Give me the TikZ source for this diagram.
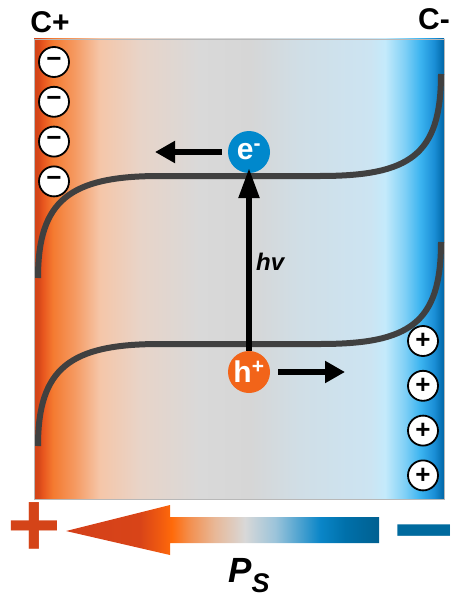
\documentclass[tikz,border=0pt]{standalone}
\usepackage{fontspec}
\setmainfont{Liberation Sans}
\usepackage{xcolor}
\usepackage{tikz}
\usetikzlibrary{positioning,arrows.meta,calc}
\definecolor{crojo}{HTML}{D44418}
\definecolor{cnaranja}{HTML}{F26419}
\definecolor{cazul}{HTML}{0088CC}
\definecolor{cazulosc}{HTML}{006A9E}
\definecolor{cbanda}{HTML}{404040}
\definecolor{cborde}{HTML}{B8B8B8}
\pgfdeclarehorizontalshading{fondo}{100bp}{
  rgb(0bp)=(0.831,0.267,0.094); rgb(25bp)=(0.831,0.267,0.094);
  rgb(25.5bp)=(0.835,0.275,0.098); rgb(26.1bp)=(0.910,0.337,0.118);
  rgb(27.3bp)=(0.957,0.478,0.188);
  rgb(30bp)=(0.961,0.604,0.384); rgb(33bp)=(0.961,0.776,0.659);
  rgb(37.9bp)=(0.910,0.831,0.784); rgb(45.2bp)=(0.851,0.851,0.851);
  rgb(51.3bp)=(0.839,0.839,0.839); rgb(57.4bp)=(0.816,0.871,0.902);
  rgb(66bp)=(0.8,0.894,0.949); rgb(67.8bp)=(0.769,0.918,0.984);
  rgb(70.2bp)=(0.502,0.816,0.965); rgb(72.1bp)=(0.235,0.706,0.941);
  rgb(73.8bp)=(0.102,0.557,0.839); rgb(75bp)=(0,0.4,0.651);
  rgb(100bp)=(0,0.4,0.651)}
\pgfdeclarehorizontalshading{polarizacion}{100bp}{
  rgb(0bp)=(0.831,0.251,0.102); rgb(25bp)=(0.831,0.251,0.102);
  rgb(36.8bp)=(0.847,0.267,0.094); rgb(40bp)=(0.941,0.353,0.063);
  rgb(41.9bp)=(1,0.416,0.039); rgb(44.8bp)=(0.953,0.565,0.314);
  rgb(48.8bp)=(0.910,0.722,0.596); rgb(53.6bp)=(0.847,0.847,0.847);
  rgb(58.4bp)=(0.612,0.769,0.855); rgb(65.6bp)=(0.039,0.525,0.784);
  rgb(69.6bp)=(0,0.439,0.667); rgb(75bp)=(0,0.376,0.565);
  rgb(100bp)=(0,0.376,0.565)}
\tikzset{
  carga/.style={circle, draw=black, line width=1.8pt, fill=white,
    minimum size=30pt, inner sep=0pt, font=\fontsize{26}{26}\selectfont\bfseries},
  portador/.style={circle, minimum size=42pt, inner sep=0pt, text=white,
    font=\fontsize{30}{30}\selectfont\bfseries},
  flecha/.style={-{Triangle[length=20pt,width=21pt]}, line width=5.5pt, draw=black},
  banda/.style={draw=cbanda, line width=6pt},
  polo/.style={font=\fontsize{30}{30}\selectfont\bfseries},
  signo/.style={font=\fontsize{92}{92}\selectfont\bfseries, inner sep=0pt},
  etq/.style={font=\fontsize{24}{24}\selectfont\bfseries\itshape},
}

\begin{document}
\begin{tikzpicture}[x=1pt, y=-1pt, node distance=8pt]
  \useasboundingbox (0,0) rectangle (451,599);
  \shadedraw[shading=fondo, draw=cborde, line width=0.6pt] (34,39) rectangle (444,499);
  \draw[banda] (38,278) .. controls (38,200) and (70,176) .. (160,176) -- (320,176)
    .. controls (410,176) and (441,155) .. (441,74);
  \draw[banda] (38,446) .. controls (38,368) and (70,344) .. (160,344) -- (320,344)
    .. controls (410,344) and (441,323) .. (441,242);

  \node[polo] (cmas) at (50,22) {C+};
  \node[polo, anchor=west, inner sep=0pt] (cmenos) at (418,19) {C-};

  \node[carga] (n1) at (54,62) {−};
  \node[carga, below=of n1] (n2) {−};
  \node[carga, below=of n2] (n3) {−};
  \node[carga, below=of n3] (n4) {−};
  \node[carga] (p1) at (423,341) {+};
  \node[carga, below=13pt of p1] (p2) {+};
  \node[carga, below=13pt of p2] (p3) {+};
  \node[carga, below=13pt of p3] (p4) {+};

  \node[portador, fill=cazul] (e) at (249,152) {e\textsuperscript{-}};
  \node[portador, fill=cnaranja] (h) at (249,372) {h\textsuperscript{+}};
  \coordinate (ee) at (155,152);
  \coordinate (hh) at (345,372);
  \draw[flecha, shorten <=6pt] (e) -- (ee);
  \draw[flecha, shorten <=8pt] (h) -- (hh);
  \draw[flecha, -{Triangle[length=30pt,width=20pt]}, shorten >=-5pt]
    (h) -- node[etq, right=1pt] {hv} (e);

  \shade[shading=polarizacion] (66,531) -- (170,505) -- (170,517) -- (379,517)
    -- (379,543) -- (170,543) -- (170,555) -- cycle;
  \node[signo, text=crojo] (mas) at (34,530) {+};
  \node[signo, text=cazulosc, font=\fontsize{105}{105}\selectfont\bfseries] (menos)
    at (424,545) {−};
  \node[etq, font=\fontsize{35}{35}\selectfont\bfseries\itshape] (ps) at (249,576)
    {P\raisebox{-10pt}{\fontsize{27}{27}\selectfont S}};
\end{tikzpicture}
\end{document}
